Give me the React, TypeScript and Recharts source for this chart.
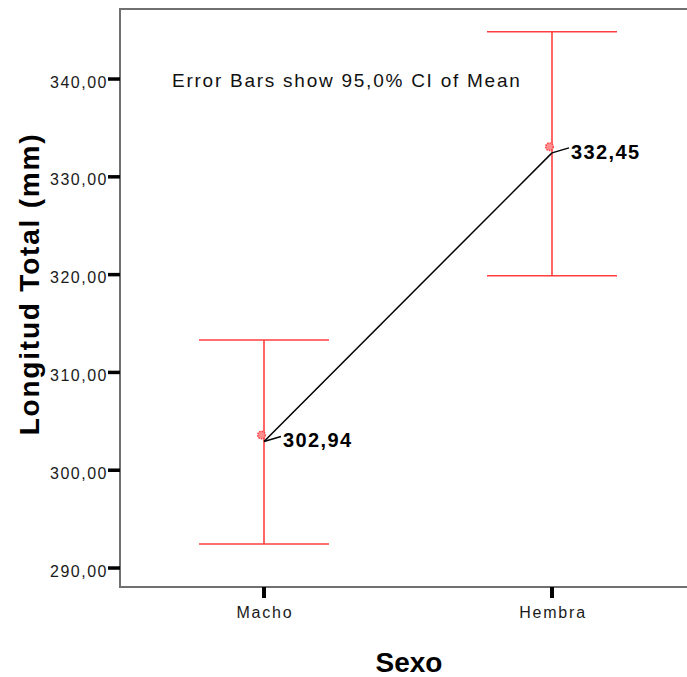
import React from "react";
import {
  ComposedChart,
  Line,
  ErrorBar,
  Scatter,
  XAxis,
  YAxis,
  ReferenceArea,
  LabelList,
} from "recharts";

// values (SPSS error-bar plot)
const categories = ["Macho", "Hembra"];
const means = [302.94, 332.45];
const ciLower = [292.45, 319.89];
const ciUpper = [313.31, 344.84];
const markerMeans = [303.6, 333.08];
const yTicks = [290, 300, 310, 320, 330, 340];

const FONT = '"Liberation Sans", Arial, Helvetica, sans-serif';
const RED = "#ff3f3f";
const Y_MIN = 288.06;
const Y_MAX = 347.16;

const data = categories.map((name, i) => ({
  pos: i,
  name,
  mean: means[i],
  err: [means[i] - ciLower[i], ciUpper[i] - means[i]],
  marker: markerMeans[i],
}));

const fmt = (v: number) => v.toFixed(2).replace(".", ",");

function MeanLabel(props: any) {
  const { x, y, value } = props;
  if (x == null || y == null) return null;
  return (
    <g>
      <line x1={x} y1={y} x2={x + 17} y2={y - 5} stroke="#000" strokeWidth={1.5} />
      <text
        x={x + 19}
        y={y + 6}
        fontFamily={FONT}
        fontSize={20}
        fontWeight="bold"
        letterSpacing={1.4}
        fill="#000"
      >
        {fmt(value)}
      </text>
    </g>
  );
}

function MarkerShape(props: any) {
  const { cx, cy } = props;
  if (cx == null || cy == null) return null;
  return (
    <circle
      cx={cx - 2.5}
      cy={cy}
      r={3.8}
      fill="#ff8f8f"
      stroke={RED}
      strokeWidth={1.4}
      strokeDasharray="1.5 1"
    />
  );
}

function YTick(props: any) {
  const { x, y, payload } = props;
  return (
    <text
      x={x}
      y={y + 3}
      textAnchor="end"
      dominantBaseline="central"
      fontFamily={FONT}
      fontSize={16}
      letterSpacing={1.5}
      fill="#1a1a1a"
    >
      {fmt(payload.value)}
    </text>
  );
}

function XTick(props: any) {
  const { x, y, payload } = props;
  return (
    <text
      x={x + 1}
      y={y + 20}
      textAnchor="middle"
      fontFamily={FONT}
      fontSize={16}
      letterSpacing={1.8}
      fill="#1a1a1a"
    >
      {categories[payload.value]}
    </text>
  );
}

function NoteLabel(props: any) {
  const vb = props.viewBox || {};
  return (
    <text
      x={(vb.x ?? 0) + 52}
      y={(vb.y ?? 0) + 78}
      fontFamily={FONT}
      fontSize={19}
      letterSpacing={1.75}
      fill="#111"
    >
      Error Bars show 95,0% CI of Mean
    </text>
  );
}

function XTitle(props: any) {
  const vb = props.viewBox || {};
  return (
    <text
      x={409}
      y={(vb.y ?? 587) + 85}
      textAnchor="middle"
      fontFamily={FONT}
      fontSize={28}
      fontWeight="bold"
      fill="#000"
    >
      Sexo
    </text>
  );
}

function YTitle() {
  const cx = 39;
  const cy = 284;
  return (
    <text
      x={cx}
      y={cy}
      transform={`rotate(-90, ${cx}, ${cy})`}
      textAnchor="middle"
      fontFamily={FONT}
      fontSize={28}
      fontWeight="bold"
      letterSpacing={1.8}
      fill="#000"
    >
      Longitud Total (mm)
    </text>
  );
}

export default function App() {
  return (
    <div
      style={{
        position: "absolute",
        left: 0,
        top: 0,
        width: 687,
        height: 677,
        overflow: "hidden",
        background: "#fff",
      }}
    >
      <ComposedChart
        width={700}
        height={677}
        data={data}
        margin={{ top: 9, right: 4, bottom: 0, left: 0 }}
      >
        <XAxis
          type="number"
          dataKey="pos"
          domain={[-0.5, 1.5]}
          ticks={[0, 1]}
          axisLine={false}
          tickLine={{ stroke: "#000", strokeWidth: 4 }}
          tickSize={11}
          tickMargin={0}
          height={90}
          tick={XTick}
          label={XTitle}
        />
        <YAxis
          type="number"
          domain={[Y_MIN, Y_MAX]}
          ticks={yTicks}
          allowDataOverflow
          width={120}
          axisLine={false}
          tickLine={{ stroke: "#000", strokeWidth: 3.5 }}
          tickSize={12}
          tickMargin={0}
          tick={YTick}
          label={YTitle}
        />
        <ReferenceArea
          x1={-0.5}
          x2={1.5}
          y1={Y_MIN}
          y2={Y_MAX}
          fill="none"
          fillOpacity={0}
          stroke="#707070"
          strokeWidth={2}
          label={NoteLabel}
        />
        <Line
          dataKey="mean"
          stroke="#000"
          strokeWidth={1.5}
          dot={false}
          activeDot={false}
          isAnimationActive={false}
        >
          <ErrorBar
            dataKey="err"
            direction="y"
            width={65}
            stroke={RED}
            strokeWidth={1.6}
            isAnimationActive={false}
          />
          <LabelList dataKey="mean" content={MeanLabel} />
        </Line>
        <Scatter dataKey="marker" shape={MarkerShape} isAnimationActive={false} />
      </ComposedChart>
    </div>
  );
}
